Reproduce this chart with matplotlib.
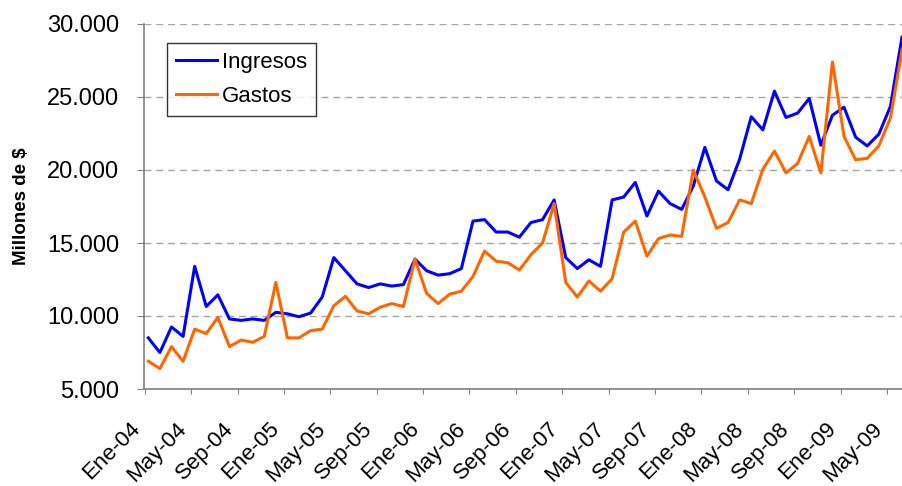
import numpy as np
import matplotlib
matplotlib.use('Agg')
import matplotlib.pyplot as plt
from matplotlib.ticker import FuncFormatter
from matplotlib.transforms import ScaledTranslation

plt.rcParams['font.family'] = ['Liberation Sans', 'DejaVu Sans']

months = ['Ene', 'Feb', 'Mar', 'Abr', 'May', 'Jun', 'Jul', 'Ago', 'Sep', 'Oct', 'Nov', 'Dic']
years = ['04', '05', '06', '07', '08', '09']
fechas = [f'{m}-{a}' for a in years for m in months][:66]

ingresos = [8500, 7500, 9250, 8600, 13400, 10650, 11450, 9800, 9700, 9800, 9700, 10250,
            10150, 9950, 10200, 11300, 14000, 13100, 12200, 11950, 12200, 12050, 12150, 13900,
            13100, 12800, 12900, 13250, 16500, 16600, 15750, 15750, 15400, 16400, 16600, 17950,
            14000, 13250, 13850, 13400, 17950, 18150, 19150, 16850, 18550, 17700, 17300, 18900,
            21550, 19250, 18650, 20750, 23650, 22750, 25400, 23600, 23900, 24900, 21700, 23750,
            24300, 22250, 21650, 22450, 24350, 29100]

gastos = [6900, 6400, 7900, 6900, 9100, 8800, 9900, 7900, 8350, 8200, 8600, 12300,
          8500, 8500, 9000, 9100, 10700, 11350, 10350, 10150, 10600, 10850, 10650, 13900,
          11550, 10850, 11500, 11700, 12700, 14450, 13750, 13650, 13150, 14200, 15000, 17700,
          12300, 11300, 12400, 11700, 12550, 15750, 16500, 14100, 15300, 15550, 15450, 20000,
          18150, 16000, 16400, 17950, 17700, 20050, 21300, 19800, 20450, 22300, 19800, 27400,
          22300, 20700, 20800, 21650, 23550, 28200]

x = np.arange(len(fechas))

fig = plt.figure(figsize=(9.02, 4.86), dpi=100)
ax = fig.add_axes([144 / 902, 1 - 389 / 486, 758 / 902, 365 / 486])

ax.plot(x, ingresos, color='#0000FF', lw=2.2, label='Ingresos')
ax.plot(x, gastos, color='#FF6600', lw=2.2, label='Gastos')

ax.set_ylim(5000, 30000)
ax.set_xlim(-0.37, 65.0)
ax.set_yticks(np.arange(5000, 30001, 5000))
ax.yaxis.set_major_formatter(FuncFormatter(lambda v, p: f'{v:,.0f}'.replace(',', '.')))
ax.grid(axis='y', color='#a6a6a6', linestyle=(0, (5, 3.5)), lw=1.0)
ax.set_axisbelow(True)

for s in ['top', 'right']:
    ax.spines[s].set_visible(False)
for s in ['left', 'bottom']:
    ax.spines[s].set_color('#808080')
    ax.spines[s].set_linewidth(1.2)
ax.tick_params(axis='y', direction='out', length=5, color='#808080', labelsize=17, pad=13)
ax.tick_params(axis='x', direction='out', length=3.6, color='#808080', pad=3)

ticks = np.arange(0, len(fechas), 4) - 0.3
ax.set_xticks(ticks)
ax.set_xticklabels(fechas[::4], rotation=45, ha='right', rotation_mode='anchor', fontsize=16)
shift = ScaledTranslation(-0.15, -0.2, fig.dpi_scale_trans)
for lab in ax.get_xticklabels():
    lab.set_transform(lab.get_transform() + shift)

ax.set_ylabel('Millones de $', fontsize=13.5, fontweight='bold')
ax.yaxis.set_label_coords(-0.15, 0.5)

leg = ax.legend(loc='upper left', bbox_to_anchor=(0.03, 0.949), borderaxespad=0,
                fontsize=16, frameon=True, fancybox=False, handlelength=1.85,
                handletextpad=0.25, labelspacing=0.6, borderpad=0.4)
leg.get_frame().set_edgecolor('black')
leg.get_frame().set_linewidth(1.0)

fig.savefig('out.png', dpi=100)
